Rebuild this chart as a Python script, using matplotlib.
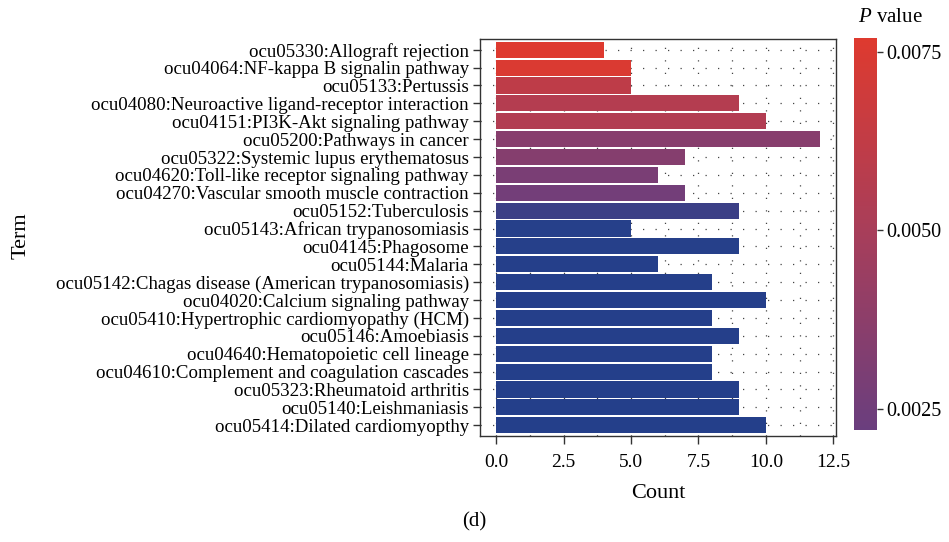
import matplotlib
matplotlib.use("Agg")
import matplotlib.pyplot as plt
import numpy as np
from matplotlib.colors import LinearSegmentedColormap, Normalize
from matplotlib.cm import ScalarMappable

plt.rcParams['font.family'] = ['Liberation Serif', 'DejaVu Serif']
plt.rcParams['mathtext.fontset'] = 'custom'
plt.rcParams['mathtext.rm'] = 'Liberation Serif'
plt.rcParams['mathtext.it'] = 'Liberation Serif:italic'

terms = [
    "ocu05330:Allograft rejection",
    "ocu04064:NF-kappa B signalin pathway",
    "ocu05133:Pertussis",
    "ocu04080:Neuroactive ligand-receptor interaction",
    "ocu04151:PI3K-Akt signaling pathway",
    "ocu05200:Pathways in cancer",
    "ocu05322:Systemic lupus erythematosus",
    "ocu04620:Toll-like receptor signaling pathway",
    "ocu04270:Vascular smooth muscle contraction",
    "ocu05152:Tuberculosis",
    "ocu05143:African trypanosomiasis",
    "ocu04145:Phagosome",
    "ocu05144:Malaria",
    "ocu05142:Chagas disease (American trypanosomiasis)",
    "ocu04020:Calcium signaling pathway",
    "ocu05410:Hypertrophic cardiomyopathy (HCM)",
    "ocu05146:Amoebiasis",
    "ocu04640:Hematopoietic cell lineage",
    "ocu04610:Complement and coagulation cascades",
    "ocu05323:Rheumatoid arthritis",
    "ocu05140:Leishmaniasis",
    "ocu05414:Dilated cardiomyopthy",
]
counts = [4, 5, 5, 9, 10, 12, 7, 6, 7, 9, 5, 9, 6, 8, 10, 8, 9, 8, 8, 9, 9, 10]
pvalues = [0.0077, 0.0075, 0.0061, 0.0056, 0.0055, 0.0035, 0.0034, 0.0029, 0.0026,
           0.0013, 0.0008, 0.0008, 0.0007, 0.0007, 0.0007, 0.0006, 0.0006, 0.0006,
           0.0005, 0.0005, 0.0005, 0.0005]
cbar_ticks = [0.0025, 0.0050, 0.0075]

vmin, vmax = 0.0005, 0.0077
def frac(v):
    return (v - vmin) / (vmax - vmin)

cmap = LinearSegmentedColormap.from_list(
    "pval",
    [(0.0, "#243F8A"), (frac(0.0009), "#27408A"), (frac(0.0022), "#6A3E7E"),
     (frac(0.0050), "#A83E5A"), (1.0, "#DE3A2F")])
norm = Normalize(vmin=vmin, vmax=vmax)

fig = plt.figure(figsize=(9.49, 5.42), dpi=100)
ax = fig.add_axes([0.5058, 0.1956, 0.3751, 0.7325])

n = len(terms)
ypos = np.arange(n)[::-1] + 1
ax.barh(ypos, counts, height=0.9, color=cmap(norm(np.array(pvalues))), zorder=2)

ax.set_xlim(-0.6, 12.6)
ax.set_ylim(0.4, n + 0.6)
ax.set_yticks(ypos)
ax.set_yticklabels(terms, fontsize=13.6)
ax.set_xticks([0, 2.5, 5, 7.5, 10, 12.5])
ax.set_xticklabels(["0.0", "2.5", "5.0", "7.5", "10.0", "12.5"], fontsize=14)
ax.set_xticks(np.arange(1.25, 12.6, 2.5), minor=True)
ax.tick_params(axis='both', which='major', direction='out', length=5, width=1,
               color='#333333', pad=3)
ax.tick_params(axis='x', which='major', length=6, pad=7)
ax.tick_params(axis='x', which='minor', length=0)

grid_style = dict(color='#444444', linewidth=0.9, linestyle=(0, (1, 9)), zorder=1)
ax.grid(True, which='major', axis='both', **grid_style)
ax.grid(True, which='minor', axis='x', **grid_style)
ax.set_axisbelow(True)
for s in ax.spines.values():
    s.set_color('#333333')
    s.set_linewidth(1.0)

ax.set_xlabel("Count", fontsize=16, labelpad=9)
fig.text(0.022, 0.565, "Term", rotation=90, fontsize=16, ha='center', va='center')

cax = fig.add_axes([0.8999, 0.2066, 0.0242, 0.7232])
sm = ScalarMappable(norm=norm, cmap=cmap)
cb = fig.colorbar(sm, cax=cax, boundaries=np.linspace(0.0022, 0.0077, 300),
                  ticks=cbar_ticks)
cb.outline.set_visible(False)
cb.ax.set_yticklabels([f"{t:.4f}" for t in cbar_ticks], fontsize=14.5)
cb.ax.tick_params(length=4, width=1, color='#333333', direction='out', pad=3)
fig.text(0.938, 0.967, r"$P$ value", fontsize=15, ha='center', va='center')

fig.text(0.4995, 0.038, "(d)", fontsize=15, ha='center', va='center')

fig.savefig("out.png", dpi=100)
